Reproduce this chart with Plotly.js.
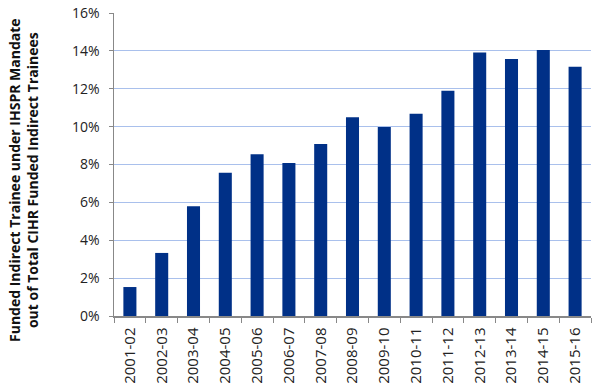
<!DOCTYPE html>
<html><head><meta charset="utf-8">
<script src="https://cdn.plot.ly/plotly-3.0.1.min.js"></script>
<style>body{margin:0;}#c{width:600px;height:388px;}</style>
</head><body><div id="c"></div>
<script>
const categories = ["2001-02","2002-03","2003-04","2004-05","2005-06","2006-07","2007-08","2008-09","2009-10","2010-11","2011-12","2012-13","2013-14","2014-15","2015-16"];
const shares = [0.0153,0.0333,0.058,0.0757,0.0854,0.0808,0.0908,0.1049,0.0998,0.1068,0.119,0.1392,0.1357,0.1404,0.1316];
const yTicks = [0,0.02,0.04,0.06,0.08,0.10,0.12,0.14,0.16];
const yTickText = ["0%","2%","4%","6%","8%","10%","12%","14%","16%"];
const yTitle = ["Funded Indirect Trainee under IHSPR Mandate","out of Total CIHR Funded Indirect Trainees"];

Plotly.newPlot('c',[{
  type:'bar', x:categories, y:shares,
  marker:{color:'#003087'}, hoverinfo:'skip'
}],{
  width:600,height:388,
  margin:{l:114,r:9,t:13,b:72},
  bargap:0.59,
  paper_bgcolor:'#fff',plot_bgcolor:'#fff',
  font:{family:'"Open Sans", "Liberation Sans", sans-serif',size:14,color:'#222'},
  xaxis:{type:'category',tickangle:-90,showline:true,linecolor:'#888',linewidth:1.5,
    ticks:'outside',tickson:'boundaries',ticklen:5,tickcolor:'#888',showgrid:false,
    ticklabelstandoff:4,
    tickfont:{size:15}},
  yaxis:{range:[0,0.16],tickvals:yTicks,ticktext:yTickText,showline:true,linecolor:'#888',linewidth:1.5,
    ticks:'outside',ticklen:4,tickcolor:'#888',gridcolor:'#a9c0ec',gridwidth:1.2,zeroline:false,
    ticklabelstandoff:6,
    tickfont:{size:14}},
  annotations:[{
    xref:'paper',yref:'paper',x:(23-114)/477,y:(316-180)/303,xanchor:'center',yanchor:'middle',
    textangle:-90,showarrow:false,
    text:'<b>'+yTitle.join('<br>')+'</b>',
    font:{size:14,color:'#111'}
  }],
  showlegend:false
},{staticPlot:true});
</script></body></html>
